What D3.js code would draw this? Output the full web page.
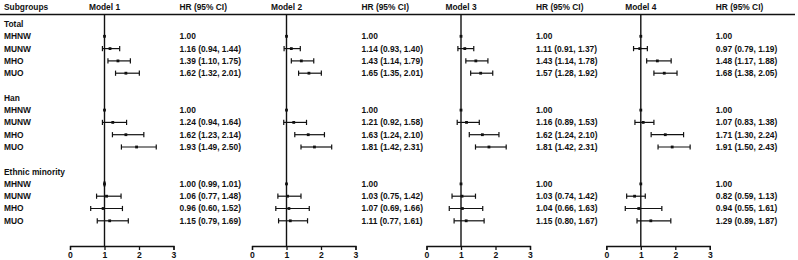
<!DOCTYPE html>
<html>
<head>
<meta charset="utf-8">
<script src="https://cdn.jsdelivr.net/npm/d3@7"></script>
<style>
    body { margin: 0; background: #fff; }
    text { font-family: "Liberation Sans Narrow", "Arial Narrow", sans-serif; font-weight: bold; font-size: 8.4px; fill: #111; }
</style>
</head>
<body>
<div id="chart"></div>
<script>
// Row labels (blank rows between the groups)
const rowLabels = ["Total", "MHNW", "MUNW", "MHO", "MUO", "",
    "Han", "MHNW", "MUNW", "MHO", "MUO", "",
    "Ethnic minority", "MHNW", "MUNW", "MHO", "MUO"];
const modelNames = ["Model 1", "Model 2", "Model 3", "Model 4"];
const axisTicks = [0, 1, 2, 3];

// HR estimates per model, rows in order MHNW, MUNW, MHO, MUO for Total, Han, Ethnic minority
const hrModel1 = [1.00, 1.16, 1.39, 1.62, 1.00, 1.24, 1.62, 1.93, 1.00, 1.06, 0.96, 1.15];
const loModel1 = [null, 0.94, 1.10, 1.32, null, 0.94, 1.23, 1.49, 0.99, 0.77, 0.60, 0.79];
const hiModel1 = [null, 1.44, 1.75, 2.01, null, 1.64, 2.14, 2.50, 1.01, 1.48, 1.52, 1.69];

const hrModel2 = [1.00, 1.14, 1.43, 1.65, 1.00, 1.21, 1.63, 1.81, 1.00, 1.03, 1.07, 1.11];
const loModel2 = [null, 0.93, 1.14, 1.35, null, 0.92, 1.24, 1.42, null, 0.75, 0.69, 0.77];
const hiModel2 = [null, 1.40, 1.79, 2.01, null, 1.58, 2.10, 2.31, null, 1.42, 1.66, 1.61];

const hrModel3 = [1.00, 1.11, 1.43, 1.57, 1.00, 1.16, 1.62, 1.81, 1.00, 1.03, 1.04, 1.15];
const loModel3 = [null, 0.91, 1.14, 1.28, null, 0.89, 1.24, 1.42, null, 0.74, 0.66, 0.80];
const hiModel3 = [null, 1.37, 1.78, 1.92, null, 1.53, 2.10, 2.31, null, 1.42, 1.63, 1.67];

const hrModel4 = [1.00, 0.97, 1.48, 1.68, 1.00, 1.07, 1.71, 1.91, 1.00, 0.82, 0.94, 1.29];
const loModel4 = [null, 0.79, 1.17, 1.38, null, 0.83, 1.30, 1.50, null, 0.59, 0.55, 0.89];
const hiModel4 = [null, 1.19, 1.88, 2.05, null, 1.38, 2.24, 2.43, null, 1.13, 1.61, 1.87];

const models = [
    { hr: hrModel1, lo: loModel1, hi: hiModel1 },
    { hr: hrModel2, lo: loModel2, hi: hiModel2 },
    { hr: hrModel3, lo: loModel3, hi: hiModel3 },
    { hr: hrModel4, lo: loModel4, hi: hiModel4 }
];

// data rows sit under each group header row
const dataRowIndex = [1, 2, 3, 4, 7, 8, 9, 10, 13, 14, 15, 16];

const width = 798, height = 260;
const headerY = 7, lineY = 14.5, axisY = 246;
const panelLeft = [70, 252, 426.5, 606.3];
const panelWidth = 103.5;

const svg = d3.select("#chart").append("svg")
    .attr("width", width)
    .attr("height", height);

const y = d3.scaleLinear()
    .domain([0, rowLabels.length - 1])
    .range([24, 220.8]);

// Header
svg.append("text")
    .attr("x", 4)
    .attr("y", headerY)
    .attr("dy", "0.35em")
    .text("Subgroups");

svg.append("line")
    .attr("x1", 0).attr("x2", 795)
    .attr("y1", lineY).attr("y2", lineY)
    .attr("stroke", "#111")
    .attr("stroke-width", 1.3);

// Row labels
svg.selectAll("text.row")
    .data(rowLabels)
    .enter()
    .append("text")
    .attr("class", "row")
    .attr("x", 4)
    .attr("y", (d, i) => y(i))
    .attr("dy", "0.35em")
    .text(d => d);

const fmt = d3.format(".2f");

models.forEach((m, k) => {
    const x = d3.scaleLinear()
        .domain([0, 3])
        .range([panelLeft[k], panelLeft[k] + panelWidth]);

    const g = svg.append("g");

    // Column headers
    g.append("text")
        .attr("x", x(1))
        .attr("y", headerY)
        .attr("dy", "0.35em")
        .attr("text-anchor", "middle")
        .text(modelNames[k]);

    const textX = x(3) + 6;
    g.append("text")
        .attr("x", textX)
        .attr("y", headerY)
        .attr("dy", "0.35em")
        .text("HR (95% CI)");

    // Reference line at HR = 1
    g.append("line")
        .attr("x1", x(1)).attr("x2", x(1))
        .attr("y1", lineY).attr("y2", axisY)
        .attr("stroke", "#111")
        .attr("stroke-width", 1.4);

    // Axis
    const axis = g.append("g")
        .attr("transform", `translate(0,${axisY})`)
        .call(d3.axisBottom(x).tickValues(axisTicks).tickSize(4).tickFormat(d3.format("d")));
    axis.select(".domain").attr("stroke", "#111").attr("stroke-width", 1.3);
    axis.selectAll(".tick line").attr("stroke", "#111").attr("stroke-width", 1.3);
    axis.selectAll(".tick text")
        .attr("y", 5.5)
        .style("font-family", "Liberation Sans Narrow, sans-serif")
        .style("font-weight", "bold")
        .style("font-size", "8.6px")
        .attr("fill", "#111");

    const rows = m.hr.map((hr, i) => ({ hr, lo: m.lo[i], hi: m.hi[i], row: dataRowIndex[i] }));

    // CI lines with caps
    const ci = rows.filter(d => d.lo !== null);
    g.selectAll("line.ci")
        .data(ci)
        .enter()
        .append("line")
        .attr("class", "ci")
        .attr("x1", d => x(d.lo)).attr("x2", d => x(d.hi))
        .attr("y1", d => y(d.row)).attr("y2", d => y(d.row))
        .attr("stroke", "#111")
        .attr("stroke-width", 1.2);

    ["lo", "hi"].forEach(key => {
        g.selectAll("line.cap-" + key)
            .data(ci)
            .enter()
            .append("line")
            .attr("class", "cap-" + key)
            .attr("x1", d => x(d[key])).attr("x2", d => x(d[key]))
            .attr("y1", d => y(d.row) - 2.6).attr("y2", d => y(d.row) + 2.6)
            .attr("stroke", "#111")
            .attr("stroke-width", 1.2);
    });

    // Point estimates
    g.selectAll("rect.pt")
        .data(rows)
        .enter()
        .append("rect")
        .attr("class", "pt")
        .attr("x", d => x(d.hr) - 1.4)
        .attr("y", d => y(d.row) - 1.4)
        .attr("width", 2.8)
        .attr("height", 2.8)
        .attr("fill", "#111");

    // HR text
    g.selectAll("text.hr")
        .data(rows)
        .enter()
        .append("text")
        .attr("class", "hr")
        .attr("x", textX)
        .attr("y", d => y(d.row))
        .attr("dy", "0.35em")
        .text(d => d.lo === null ? fmt(d.hr) : `${fmt(d.hr)} (${fmt(d.lo)}, ${fmt(d.hi)})`);
});
</script>
</body>
</html>
